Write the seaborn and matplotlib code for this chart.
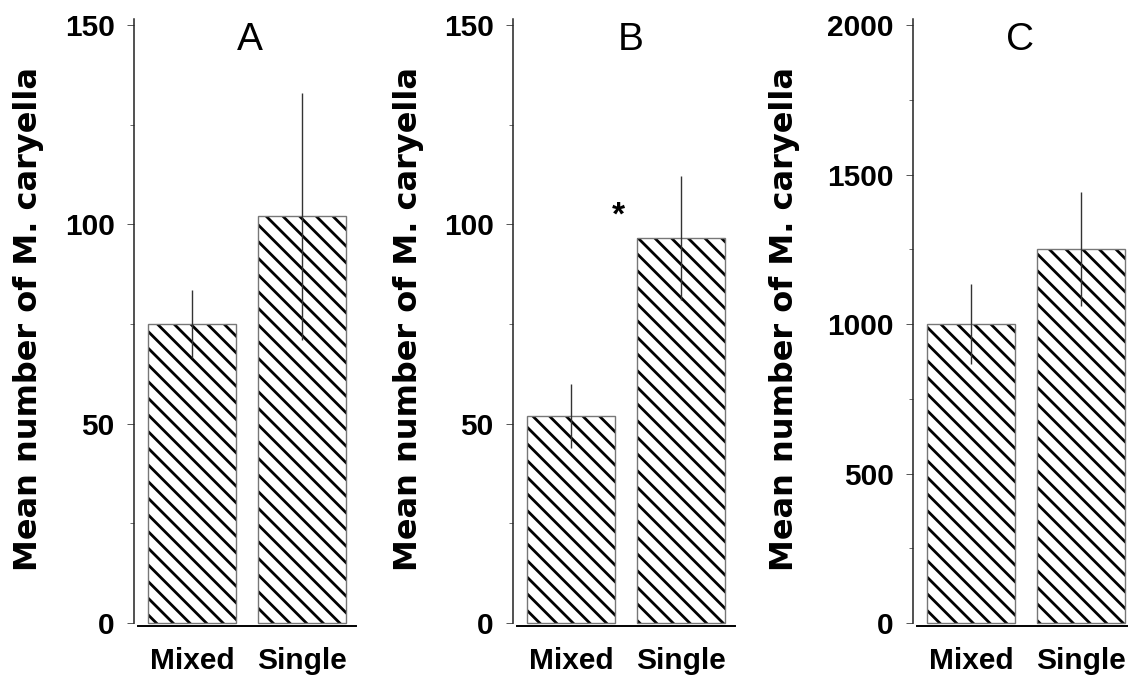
import matplotlib
matplotlib.use("Agg")
import matplotlib.pyplot as plt
import seaborn as sns
from matplotlib.patches import Rectangle
from matplotlib.ticker import MultipleLocator

# data (mean and SE for each panel)
groups = ["Mixed", "Single"]
panel_labels = ["A", "B", "C"]
means_a = [75, 102]
se_a = [8.5, 31]
means_b = [52, 96.5]
se_b = [8, 15.5]
means_c = [1000, 1250]
se_c = [135, 190]
ymax = [150, 150, 2000]
ystep = [50, 50, 500]
star_b = (0.43, 102)

sns.set_style("ticks")
plt.rcParams["font.family"] = ["Liberation Sans", "DejaVu Sans"]
plt.rcParams["hatch.linewidth"] = 2.0
plt.rcParams["text.color"] = "black"
plt.rcParams["axes.labelcolor"] = "black"

fig = plt.figure(figsize=(11.28, 6.84), dpi=100)
W, H = 1128, 684

lefts = [134, 513, 913]
label_x = [-0.405, -0.40, -0.51]
title_x = [0.52, 0.53, 0.48]
all_means = [means_a, means_b, means_c]
all_se = [se_a, se_b, se_c]

for i in range(3):
    ax = fig.add_axes([lefts[i] / W, (H - 626) / H, 222 / W, 601 / H])
    sns.barplot(x=groups, y=all_means[i], ax=ax, color="white",
                edgecolor="black", linewidth=0, hatch="\\\\",
                errorbar=None, width=0.8, saturation=1)
    # thin grey outline on top of the hatched bars
    for p in list(ax.patches):
        ax.add_patch(Rectangle(p.get_xy(), p.get_width(), p.get_height(),
                               fill=False, ec="#777777", lw=1.0, zorder=3))
    ax.errorbar(range(len(groups)), all_means[i], yerr=all_se[i], fmt="none",
                ecolor="#333333", elinewidth=1.0, capsize=0, zorder=4)

    top = ymax[i]
    ax.set_ylim(-top * 0.005, top)
    ax.set_xlim(-0.53, 1.49)
    ax.yaxis.set_major_locator(MultipleLocator(ystep[i]))
    ax.yaxis.set_minor_locator(MultipleLocator(ystep[i] / 2))
    ax.spines["top"].set_visible(False)
    ax.spines["right"].set_visible(False)
    ax.spines["left"].set_bounds(0, top * 1.01)
    ax.spines["bottom"].set_bounds(-0.49, 1.49)
    ax.spines["left"].set_linewidth(1.1)
    ax.spines["bottom"].set_linewidth(1.4)
    ax.spines["left"].set_color("#222222")
    ax.spines["bottom"].set_color("black")
    ax.tick_params(axis="y", which="major", length=5, width=0.7,
                   color="#555555", pad=9, labelsize=21.5, labelcolor="black")
    ax.tick_params(axis="y", which="minor", length=3, width=0.6,
                   color="#555555")
    ax.tick_params(axis="x", length=0, pad=15, labelsize=21.5,
                   labelcolor="black")
    for lab in ax.get_yticklabels() + ax.get_xticklabels():
        lab.set_fontweight("bold")
    ax.set_xlabel("")
    ax.set_ylabel("Mean number of M. caryella", fontsize=23,
                  fontweight="bold", family="DejaVu Sans")
    ax.yaxis.set_label_coords(label_x[i], 0.51)
    ax.text(title_x[i], 0.975, panel_labels[i], transform=ax.transAxes,
            ha="center", va="center", fontsize=28)
    if i == 1:
        ax.text(star_b[0], star_b[1], "*", ha="center", va="center",
                fontsize=24, fontweight="bold")

fig.savefig("out.png", dpi=100)
